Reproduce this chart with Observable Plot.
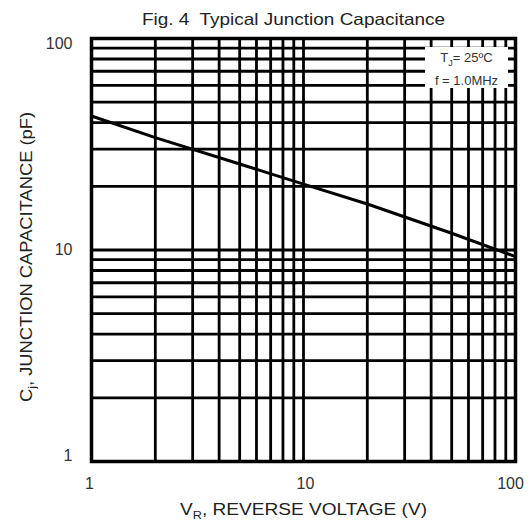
<!DOCTYPE html>
<html>
<head>
<meta charset="utf-8">
<script src="https://cdn.jsdelivr.net/npm/d3@7"></script>
<script src="https://cdn.jsdelivr.net/npm/@observablehq/plot@0.6"></script>
<style>
  html, body { margin: 0; padding: 0; background: #fff; }
  #wrap { position: relative; width: 530px; height: 522px; font-family: "Liberation Sans", Arial, sans-serif; color: #222; }
  #title { height: 30px; position: relative; }
  #title span { position: absolute; left: 0; top: 10px; font-size: 16.5px; white-space: nowrap; transform-origin: 0 0; }
  #note { position: absolute; left: 425px; top: 47px; width: 83px; height: 41px; background: #fff;
          font-size: 13px; color: #333; text-align: center; line-height: 18px; padding-top: 2px; box-sizing: border-box; white-space: nowrap; }
</style>
</head>
<body>
<div id="wrap">
  <div id="title"><span id="titletext">Fig. 4&nbsp; Typical Junction Capacitance</span></div>
  <div id="chart"></div>
  <div id="note">T<sub style="font-size:9px">J</sub>= 25ºC<br>f = 1.0MHz</div>
</div>
<script>
// Data
const voltage = [1, 2, 5, 10, 20, 50, 100];              // V_R (V)
const capacitance = [43, 34, 25.5, 20.5, 16.5, 12, 9.3]; // C_j (pF)

const xTicks = [1, 10, 100];
const yTicks = [1, 10, 100];
const xGrid = [1, 2, 3, 4, 5, 6, 7, 8, 9, 10, 20, 30, 40, 50, 60, 70, 80, 90, 100];
const yGrid = [1, 2, 3, 4, 5, 6, 7, 8, 9, 10, 20, 30, 40, 50, 60, 70, 80, 90, 100];

const points = voltage.map((v, i) => ({v, c: capacitance[i]}));

const W = 530, H = 492;
const plot = Plot.plot({
  width: W,
  height: H,
  marginLeft: 91,
  marginRight: 15,
  marginTop: 8,
  marginBottom: 61,
  style: {fontFamily: "'Liberation Sans', Arial, sans-serif", fontSize: "16px", color: "#333", background: "#fff"},
  x: {type: "log", domain: [1, 100]},
  y: {type: "log", domain: [1, 100]},
  marks: [
    Plot.gridX(xGrid, {stroke: "#000", strokeOpacity: 1, strokeWidth: 2.8}),
    Plot.gridY(yGrid, {stroke: "#000", strokeOpacity: 1, strokeWidth: 2.8}),
    Plot.line(points, {x: "v", y: "c", stroke: "#000", strokeWidth: 3}),
    Plot.frame({stroke: "#000", strokeWidth: 3.5}),
    Plot.axisX([xTicks[0]], {tickSize: 0, tickPadding: 16, label: null, dx: -2, tickFormat: d => String(d)}),
    Plot.axisX([xTicks[1]], {tickSize: 0, tickPadding: 16, label: null, dx: 2, tickFormat: d => String(d)}),
    Plot.axisX([xTicks[2]], {tickSize: 0, tickPadding: 16, label: null, dx: -5, tickFormat: d => String(d)}),
    Plot.axisY([yTicks[2]], {tickSize: 0, tickPadding: 19, label: null, dy: 5, tickFormat: d => String(d)}),
    Plot.axisY([yTicks[1]], {tickSize: 0, tickPadding: 19, label: null, tickFormat: d => String(d)}),
    Plot.axisY([yTicks[0]], {tickSize: 0, tickPadding: 19, label: null, dy: -6, tickFormat: d => String(d)})
  ]
});
document.getElementById("chart").appendChild(plot);

// Title: stretch to the width seen in the figure (x 142..445)
const t = document.getElementById("titletext");
const tw = t.getBoundingClientRect().width;
t.style.left = "142px";
t.style.transform = `scaleX(${303 / tw})`;

const svg = d3.select(plot);
// x axis label with subscript
const xl = svg.append("text")
  .attr("x", 180).attr("y", 485)
  .attr("text-anchor", "start")
  .attr("fill", "#222")
  .attr("textLength", 247)
  .attr("lengthAdjust", "spacingAndGlyphs")
  .style("font-size", "16.5px");
xl.append("tspan").text("V");
xl.append("tspan").attr("dy", 4).style("font-size", "11px").text("R");
xl.append("tspan").attr("dy", -4).text(", REVERSE VOLTAGE (V)");

// y axis label with subscript
const yl = svg.append("text")
  .attr("transform", "translate(32,372) rotate(-90)")
  .attr("text-anchor", "start")
  .attr("fill", "#222")
  .attr("textLength", 290)
  .attr("lengthAdjust", "spacingAndGlyphs")
  .style("font-size", "16px");
yl.append("tspan").text("C");
yl.append("tspan").attr("dy", 4).style("font-size", "11px").text("j");
yl.append("tspan").attr("dy", -4).text(", JUNCTION CAPACITANCE (pF)");
</script>
</body>
</html>
